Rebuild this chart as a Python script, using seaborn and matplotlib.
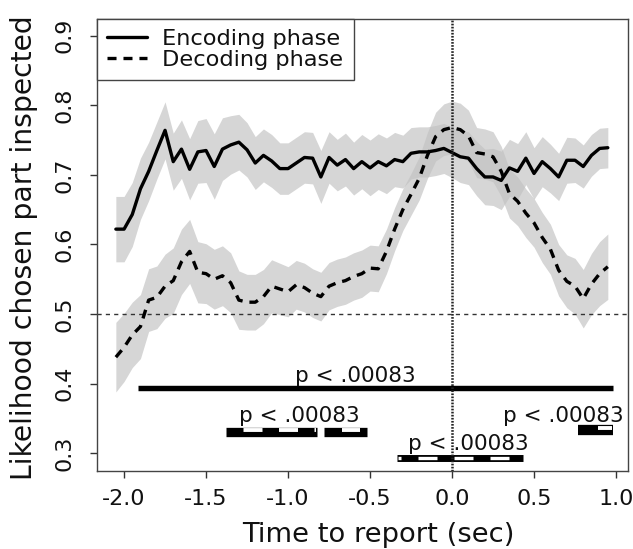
import numpy as np
import pandas as pd
import matplotlib
matplotlib.use("Agg")
import matplotlib.pyplot as plt
from matplotlib import transforms
import seaborn as sns

# ---------------- data ----------------
time = np.round(np.arange(-2.05, 0.951, 0.05), 2)

encoding_mean = [0.622, 0.622, 0.643, 0.680, 0.705, 0.735, 0.764, 0.719, 0.737, 0.708,
                 0.733, 0.735, 0.712, 0.737, 0.743, 0.747, 0.736, 0.717, 0.728, 0.720,
                 0.709, 0.709, 0.717, 0.725, 0.724, 0.697, 0.725, 0.714, 0.722, 0.709,
                 0.719, 0.710, 0.719, 0.713, 0.722, 0.719, 0.731, 0.733, 0.733, 0.735,
                 0.738, 0.732, 0.726, 0.724, 0.709, 0.697, 0.697, 0.692, 0.710, 0.705,
                 0.724, 0.702, 0.719, 0.709, 0.697, 0.721, 0.721, 0.712, 0.728, 0.738,
                 0.739]
encoding_hw = [0.047, 0.047, 0.046, 0.044, 0.042, 0.041, 0.041, 0.041, 0.042, 0.044,
               0.045, 0.046, 0.047, 0.045, 0.042, 0.040, 0.039, 0.038, 0.038, 0.038,
               0.037, 0.037, 0.037, 0.037, 0.037, 0.038, 0.037, 0.037, 0.038, 0.038,
               0.039, 0.040, 0.040, 0.040, 0.039, 0.038, 0.037, 0.036, 0.036, 0.036,
               0.036, 0.036, 0.037, 0.038, 0.039, 0.040, 0.041, 0.042, 0.041, 0.040,
               0.038, 0.037, 0.036, 0.035, 0.034, 0.033, 0.032, 0.031, 0.030, 0.029,
               0.029]

decoding_mean = [0.438, 0.452, 0.470, 0.482, 0.520, 0.524, 0.540, 0.548, 0.575, 0.590,
                 0.560, 0.558, 0.550, 0.555, 0.545, 0.520, 0.517, 0.517, 0.525, 0.540,
                 0.536, 0.532, 0.542, 0.538, 0.530, 0.525, 0.540, 0.545, 0.548, 0.554,
                 0.558, 0.566, 0.565, 0.590, 0.622, 0.650, 0.672, 0.695, 0.728, 0.755,
                 0.765, 0.768, 0.765, 0.756, 0.732, 0.730, 0.726, 0.705, 0.673, 0.662,
                 0.645, 0.631, 0.610, 0.593, 0.563, 0.547, 0.540, 0.522, 0.543, 0.558,
                 0.568]
decoding_hw = [0.050, 0.049, 0.047, 0.046, 0.045, 0.045, 0.046, 0.047, 0.047, 0.046,
               0.044, 0.043, 0.043, 0.043, 0.043, 0.042, 0.040, 0.040, 0.039, 0.038,
               0.037, 0.036, 0.035, 0.035, 0.035, 0.035, 0.034, 0.034, 0.034, 0.034,
               0.034, 0.033, 0.033, 0.032, 0.031, 0.030, 0.030, 0.031, 0.033, 0.035,
               0.037, 0.038, 0.038, 0.037, 0.036, 0.036, 0.036, 0.036, 0.035, 0.035,
               0.035, 0.035, 0.036, 0.036, 0.037, 0.038, 0.040, 0.042, 0.044, 0.046,
               0.047]

phases = ["Encoding phase", "Decoding phase"]

# significance bars
sig_start = [-1.915, -1.378, -0.780, -0.335, 0.770]
sig_end = [0.980, -0.823, -0.518, 0.433, 0.980]
sig_level = [0.394, 0.330, 0.330, 0.293, 0.333]
sig_text = ["p < .00083", "p < .00083", "p < .00083", "p < .00083"]
sig_text_x = [-0.59, -0.93, 0.10, 0.68]
sig_text_y = [0.402, 0.345, 0.3046, 0.345]

xticks = [-2.0, -1.5, -1.0, -0.5, 0.0, 0.5, 1.0]
xticklabels = ["-2.0", "-1.5", "-1.0", "-0.5", "0.0", "0.5", "1.0"]
yticks = [0.3, 0.4, 0.5, 0.6, 0.7, 0.8, 0.9]
yticklabels = ["0.3", "0.4", "0.5", "0.6", "0.7", "0.8", "0.9"]

# ---------------- style ----------------
sns.set_style("ticks")
plt.rcParams.update({
    "font.family": ["DejaVu Sans"],
    "axes.unicode_minus": False,
    "lines.scale_dashes": False,
})

df = pd.DataFrame({
    "time": np.concatenate([time, time]),
    "likelihood": np.concatenate([encoding_mean, decoding_mean]),
    "phase": [phases[0]] * len(time) + [phases[1]] * len(time),
})

fig = plt.figure(figsize=(6.33, 5.49), dpi=100)
ax = fig.add_axes([97 / 633, 1 - 471 / 549, 531 / 633, 452 / 549])

band_col = (193 / 255, 193 / 255, 193 / 255)
for m, hw in [(encoding_mean, encoding_hw), (decoding_mean, decoding_hw)]:
    m = np.asarray(m)
    hw = np.asarray(hw)
    ax.fill_between(time, m - hw, m + hw, color=band_col, alpha=0.66, lw=0, zorder=1)

sns.lineplot(data=df, x="time", y="likelihood", style="phase", style_order=phases,
             dashes={phases[0]: "", phases[1]: (6.5, 5)}, color="black",
             linewidth=2.4, estimator=None, errorbar=None, ax=ax, zorder=3)

# reference lines
ax.axhline(0.5, color="#333333", lw=1.0, ls=(0, (3, 3)), zorder=2)
ax.axvline(0.0, color="#222222", lw=1.8, ls=(0, (1.2, 1.0)), zorder=6)

# significance bars
bar_lw = [3.9, 6.7, 6.7, 5.0, 7.4]
white_lw = [0, 2.8, 2.8, 2.4, 2.8]
white_dash = [None, (0.72 * 19, (0.72 * 19, 0.72 * 16.5)),
              (0.72 * 19, (0.72 * 18, 0.72 * 18)),
              (0.72 * 16, (0.72 * 19, 0.72 * 17)),
              (0.72 * 17, (0.72 * 17, 0.72 * 19))]
white_off = [0, 1.6, 1.6, 0, 1.6]
for i in range(len(sig_start)):
    ax.plot([sig_start[i], sig_end[i]], [sig_level[i], sig_level[i]], color="black",
            lw=bar_lw[i], solid_capstyle="butt", zorder=4)
    if white_lw[i] > 0:
        tr = transforms.offset_copy(ax.transData, fig=fig, x=0, y=white_off[i], units="points")
        ax.plot([sig_start[i] + 0.004, sig_end[i] - 0.004], [sig_level[i], sig_level[i]],
                color="white", lw=white_lw[i], ls=white_dash[i], dash_capstyle="butt",
                transform=tr, zorder=5)

for txt, tx, ty in zip(sig_text, sig_text_x, sig_text_y):
    ax.text(tx, ty, txt, ha="center", va="baseline", fontsize=15.5, color="#111111", zorder=7)

# axes
ax.set_xlim(-2.165, 1.073)
ax.set_ylim(0.2744, 0.924)
ax.set_xticks(xticks)
ax.set_xticklabels(xticklabels)
ax.set_yticks(yticks)
ax.set_yticklabels(yticklabels, rotation=90, va="center")
ax.tick_params(direction="out", length=5, width=1, labelsize=16, color="#333333",
               labelcolor="#111111")
ax.tick_params(axis="x", pad=8)
ax.tick_params(axis="y", pad=11)
for sp in ax.spines.values():
    sp.set_visible(True)
    sp.set_linewidth(1.0)
    sp.set_color("#444444")

ax.set_xlabel("Time to report (sec)", fontsize=19.7, color="#111111")
ax.xaxis.set_label_coords(0.530, -0.1416)
ax.xaxis.label.set_va("center")
ax.set_ylabel("Likelihood chosen part inspected", fontsize=20.3, color="#111111")
ax.yaxis.set_label_coords(-0.1375, 0.4945)
ax.yaxis.label.set_va("center")

handles, labels = ax.get_legend_handles_labels()
leg = ax.legend(handles, labels, loc="upper left", bbox_to_anchor=(0, 1),
                borderaxespad=0, fontsize=16.2, frameon=True, fancybox=False,
                edgecolor="#444444", framealpha=1, handlelength=1.75,
                handletextpad=0.7, labelspacing=0.05, borderpad=0.45)
leg.get_frame().set_linewidth(1.0)
for t in leg.get_texts():
    t.set_color("#111111")

fig.savefig("out.png", dpi=100)
